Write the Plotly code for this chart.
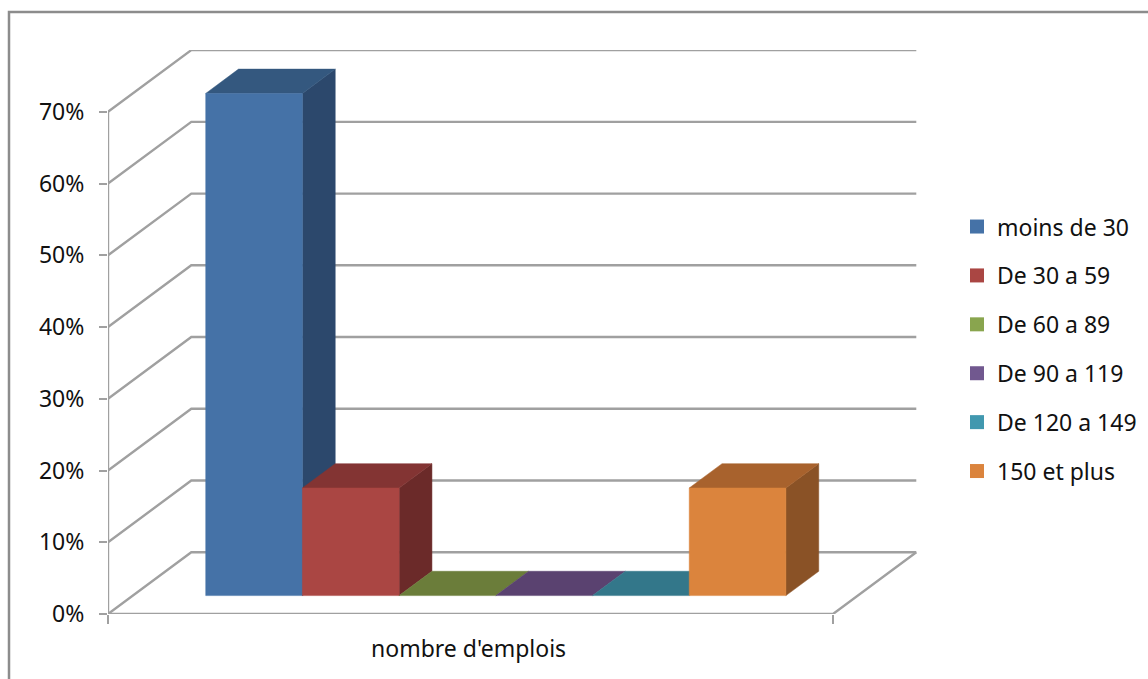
import plotly.graph_objects as go

# Share of establishments per employment bracket
CATEGORIES = ["moins de 30", "De 30 a 59", "De 60 a 89", "De 90 a 119", "De 120 a 149", "150 et plus"]
VALUES = [70, 15, 0, 0, 0, 15]
PCT_TICKS = [0, 10, 20, 30, 40, 50, 60, 70]
PCT_LABELS = ["0%", "10%", "20%", "30%", "40%", "50%", "60%", "70%"]
AXIS_LABEL = "nombre d'emplois"

FRONT = ["#4572a7", "#aa4643", "#89a54e", "#71588f", "#4198af", "#db843d"]
TOP = ["#34587f", "#833433", "#6b7d3a", "#5a4270", "#33778a", "#a8622d"]
SIDE = ["#2c486c", "#6b2a29", "#566530", "#483560", "#2a6070", "#8a5226"]
GRID = "#a0a0a0"
FRAME = "#8c8c8c"
FONT = "Noto Sans"
FONT_SIZE = 23

W, H = 1148, 679
M_L, M_R, M_T, M_B = 108, 231, 50, 65.3
SLOT_PX = 96.7
PCT_PX = 7.17

# Oblique projection: depth 0 is the front plane, depth 1 the back wall
DEPTH_X = 83.3 / SLOT_PX
DEPTH_Y = 61.7 / PCT_PX
FLOOR_LEFT = -72.9 / SLOT_PX
FLOOR_RIGHT = 652.1 / SLOT_PX
BAR_NEAR, BAR_FAR = 0.298, 0.692


def project(slot, pct, depth):
    return slot + depth * DEPTH_X, pct + depth * DEPTH_Y


def poly(points):
    pts = [project(*p) for p in points]
    return [p[0] for p in pts], [p[1] for p in pts]


def line_trace(points, color=GRID, width=2.4):
    x, y = poly(points)
    return go.Scatter(x=x, y=y, mode="lines", line=dict(color=color, width=width),
                      showlegend=False, hoverinfo="skip", cliponaxis=False)


def face_trace(points, color):
    x, y = poly(points + points[:1])
    return go.Scatter(x=x, y=y, mode="lines", fill="toself", fillcolor=color,
                      line=dict(color=color, width=0.5), showlegend=False,
                      hoverinfo="skip", cliponaxis=False)


fig = go.Figure()

# Back wall and side wall gridlines
for pct in PCT_TICKS:
    fig.add_trace(line_trace([(FLOOR_LEFT, pct, 0), (FLOOR_LEFT, pct, 1), (FLOOR_RIGHT, pct, 1)]))

# Floor outline and value axis
fig.add_trace(line_trace([(FLOOR_RIGHT, 0, 1), (FLOOR_RIGHT, 0, 0), (FLOOR_LEFT, 0, 0)]))
fig.add_trace(line_trace([(FLOOR_LEFT, 0, 0), (FLOOR_LEFT, PCT_TICKS[-1], 0)]))

# Bars, left to right so each one overlaps its left neighbour's side face
for i, v in enumerate(VALUES):
    l, r = i, i + 1
    if v > 0:
        fig.add_trace(face_trace([(r, 0, BAR_NEAR), (r, 0, BAR_FAR), (r, v, BAR_FAR), (r, v, BAR_NEAR)], SIDE[i]))
    fig.add_trace(face_trace([(l, v, BAR_NEAR), (l, v, BAR_FAR), (r, v, BAR_FAR), (r, v, BAR_NEAR)], TOP[i]))
    if v > 0:
        fig.add_trace(face_trace([(l, 0, BAR_NEAR), (r, 0, BAR_NEAR), (r, v, BAR_NEAR), (l, v, BAR_NEAR)], FRONT[i]))

# Legend entries
for name, color in zip(CATEGORIES, FRONT):
    fig.add_trace(go.Scatter(x=[None], y=[None], mode="markers", name=name, legendgroup=name,
                             marker=dict(symbol="square", size=14, color=color)))

plot_w = W - M_L - M_R
plot_h = H - M_T - M_B

fig.update_layout(
    width=W, height=H,
    margin=dict(l=M_L, r=M_R, t=M_T, b=M_B, pad=0, autoexpand=False),
    paper_bgcolor="white", plot_bgcolor="white",
    font=dict(family=FONT, size=FONT_SIZE, color="#111111"),
    xaxis=dict(range=[FLOOR_LEFT, FLOOR_LEFT + plot_w / SLOT_PX], showgrid=False, zeroline=False,
               showline=False, tickmode="array", tickvals=[FLOOR_LEFT, FLOOR_RIGHT], ticktext=["", ""],
               ticks="outside", ticklen=9, tickwidth=2.4, tickcolor=GRID, fixedrange=True),
    yaxis=dict(range=[0, plot_h / PCT_PX], showgrid=False, zeroline=False, showline=False,
               tickmode="array", tickvals=PCT_TICKS, ticktext=PCT_LABELS,
               ticks="outside", ticklen=8, tickwidth=2.4, tickcolor=GRID,
               ticklabelstandoff=10, fixedrange=True),
    legend=dict(x=(957 - M_L) / plot_w, y=(H - M_B - 205) / plot_h, xanchor="left", yanchor="top",
                tracegroupgap=16, traceorder="grouped", font=dict(family=FONT, size=FONT_SIZE, color="#111111"),
                bgcolor="rgba(0,0,0,0)"),
    annotations=[dict(text=AXIS_LABEL, xref="x", yref="paper",
                      x=(FLOOR_LEFT + FLOOR_RIGHT) / 2, y=0, xshift=-2, yshift=-34, yanchor="middle",
                      showarrow=False, font=dict(family=FONT, size=FONT_SIZE, color="#111111"))],
    shapes=[dict(type="path", xref="paper", yref="paper", layer="above",
                 path=f"M {(9 - M_L) / plot_w} {(H - M_B - H) / plot_h} "
                      f"L {(9 - M_L) / plot_w} {(H - M_B - 12) / plot_h} "
                      f"L {(W - M_L) / plot_w} {(H - M_B - 12) / plot_h}",
                 line=dict(color=FRAME, width=2.5))],
)

fig.write_html("out.html")
